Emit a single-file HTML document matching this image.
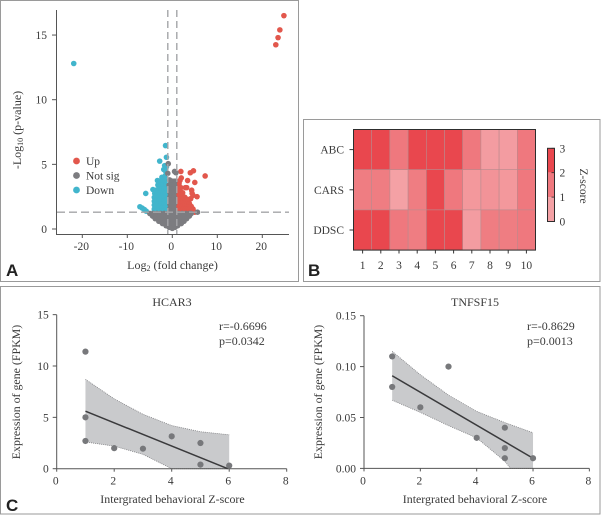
<!DOCTYPE html>
<html lang="en"><head><meta charset="utf-8"><title>Volcano plot, heatmap and correlations</title>
<style>
html,body{margin:0;padding:0;background:#fff}
svg{display:block}
text{font-family:"Liberation Serif",serif;fill:#3a3a3a;font-size:11.5px}
.tag{font-family:"Liberation Sans",sans-serif;font-weight:700;font-size:17px;fill:#222}
</style></head>
<body>
<svg id="figure" width="601" height="516" viewBox="0 0 601 516" xmlns="http://www.w3.org/2000/svg">
<rect x="0.5" y="0.5" width="298" height="281" fill="none" stroke="#9a9a9a"/>
<rect x="303.5" y="119.5" width="296.5" height="162" fill="none" stroke="#9a9a9a"/>
<rect x="0.5" y="286.5" width="599.5" height="227.5" fill="none" stroke="#9a9a9a"/>
<text class="tag" x="6" y="276">A</text>
<text class="tag" x="308" y="276">B</text>
<text class="tag" x="6" y="511">C</text>
</svg>
<script>
// ---- Volcano data: [log2 fold change, -log10 p]
const upPoints = [[24.8,16.5],[23.9,15.4],[23.5,14.8],[23,14.25],[7.3,4.1],[4.7,4.5],[4,4.35],[1.9,4.45],[5,3.6],[3.4,3.75],[2,3.95],[1.7,3.75],[1.5,3.5],[2.9,3.2],[3.2,3.2],[4.3,3],[4.4,2.75],[4.6,2.6],[5.5,2.5],[4.1,2.35],[3.7,2.2],[4.6,1.55],[5,1.3],[1.4,3.2],[1.9,3.2],[1.3,2.9],[1.8,2.9],[2.3,2.8],[1.3,2.6],[1.8,2.6],[2.3,2.5],[2.8,2.45],[1.3,2.3],[1.8,2.3],[2.3,2.25],[2.8,2.2],[3.3,2.3],[1.3,2.0],[1.8,2.0],[2.3,2.0],[2.8,1.95],[3.3,1.95],[3.8,1.95],[1.3,1.75],[1.8,1.75],[2.3,1.75],[2.8,1.75],[3.3,1.7],[3.8,1.7],[4.2,1.75],[1.3,1.5],[1.8,1.5],[2.3,1.5],[2.8,1.5],[3.3,1.5],[3.8,1.5],[4.2,1.45]];
const notSigPoints = [[0.5,4.45],[0.8,4.35],[-0.9,5.05],[-1,4.3],[-0.6,3.8],[0.1,3.7],[0.6,3.7],[-0.7,3.4],[-0.2,3.4],[0.3,3.4],[0.5,3.4],[-0.5,3.1],[0.2,3.1],[0.5,3.1],[-0.5,2.8],[-0.2,2.8],[0.4,2.8],[-0.5,2.5],[-0.2,2.5],[0.3,2.5],[0.4,2.5],[-0.5,2.2],[-0.2,2.2],[0.3,2.2],[0.4,2.2],[-0.5,1.9],[-0.2,1.9],[0.3,1.9],[0.4,1.9],[-0.5,1.6],[-0.2,1.6],[0.3,1.6],[0.4,1.6],[-0.5,1.35],[0,1.35],[0.4,1.35],[5.6,1.3],
[-5,1.2],[-4.2,1.2],[-3.4,1.2],[-2.6,1.2],[-1.8,1.2],[-1,1.2],[-0.2,1.2],[0.6,1.2],[1.4,1.2],[2.2,1.2],[3,1.2],[3.8,1.2],[4.2,1.2],
[-4.4,1],[-3.6,1],[-2.8,1],[-2,1],[-1.2,1],[-0.4,1],[0.4,1],[1.2,1],[2,1],[2.8,1],[3.4,1],[3.8,1],
[-3.8,0.8],[-3.1,0.8],[-2.3,0.8],[-1.5,0.8],[-0.7,0.8],[0.1,0.8],[0.9,0.8],[1.7,0.8],[2.5,0.8],[3.2,0.8],
[-3,0.6],[-2.3,0.6],[-1.5,0.6],[-0.7,0.6],[0.1,0.6],[0.9,0.6],[1.7,0.6],[2.6,0.6],
[-2.2,0.42],[-1.5,0.42],[-0.8,0.42],[-0.1,0.42],[0.6,0.42],[1.3,0.42],[2,0.42],
[-1.4,0.26],[-0.7,0.26],[0,0.26],[0.7,0.26],[1.2,0.26],
[-0.7,0.13],[-0.2,0.13],[0.2,0.13],[0.6,0.13],[0,0.05]];
const downPoints = [[-21.9,12.8],[-1.5,6.45],[-1.3,5.55],[-2.8,5.25],[-1.7,4.9],[-1.3,4.8],[-1.9,4.6],[-1.4,4.4],[-2.3,4],[-1.6,4.1],[-3.3,3.75],[-2.7,3.7],[-2.1,3.75],[-1.5,3.75],[-3.2,3.4],[-2.6,3.4],[-2,3.4],[-1.4,3.4],[-4.3,3.05],[-3.6,3],[-3,3.1],[-2.4,3.1],[-1.8,3.1],[-1.3,3.1],[-5.9,2.75],[-3.9,2.75],[-3.3,2.8],[-2.7,2.8],[-2.1,2.8],[-1.5,2.8],[-4,2.45],[-3.6,2.5],[-3,2.5],[-2.4,2.5],[-1.8,2.5],[-1.3,2.5],[-4,2.15],[-3.6,2.2],[-3,2.2],[-2.4,2.2],[-1.8,2.2],[-1.3,2.2],[-4,1.85],[-3.6,1.9],[-3,1.9],[-2.4,1.9],[-1.8,1.9],[-1.3,1.9],[-7.2,1.72],[-6.7,1.62],[-6.2,1.5],[-5.8,1.38],[-4,1.55],[-3.6,1.6],[-3,1.6],[-2.4,1.6],[-1.8,1.6],[-1.3,1.6],[-4,1.38],[-3.6,1.38],[-3,1.38],[-2.4,1.38],[-1.8,1.38],[-1.3,1.38]];
const volcanoXTicks = [-20,-10,0,10,20];
const volcanoYTicks = [0,5,10,15];
const foldThresholds = [-1,1];
const pThreshold = 1.3;
const legendLabels = ['Up','Not sig','Down'];

// ---- Heatmap data
const heatRows = ['ABC','CARS','DDSC'];
const heatCols = ['1','2','3','4','5','6','7','8','9','10'];
const heatABC = [2.9,2.9,1.8,2.9,2.9,2.9,1.8,1.0,1.0,1.8];
const heatCARS = [1.7,1.7,0.9,1.7,2.9,1.8,1.1,1.2,1.1,1.8];
const heatDDSC = [2.9,2.9,1.8,1.7,2.9,2.9,1.0,1.7,1.7,1.8];
const colorbarTicks = [0,1,2,3];

// ---- Correlation data
const hcarX = [1,1,1,2,3,4,5,5,6];
const hcarY = [11.4,5,2.7,2,1.95,3.15,2.5,0.4,0.3];
const hcarBandX = [1,2,3,4,5,6];
const hcarUpper = [8.7,6.8,5.3,4.2,3.6,3.3];
const hcarLower = [2.6,2.2,1.4,0,0,0];
const hcarFit = [5.6,0];
const tnfX = [1,1,2,3,4,5,5,5,6];
const tnfY = [0.11,0.08,0.06,0.1,0.03,0.04,0.02,0.01,0.01];
const tnfBandX = [1,2,3,4,5,5.2,6];
const tnfUpper = [0.115,0.092,0.072,0.056,0.045,0.043,0.035];
const tnfLower = [0.067,0.055,0.042,0.03,0.007,0,0];
const tnfFit = [0.091,0.01];
const corrXTicks = [0,2,4,6,8];
const hcarYTicks = [0,5,10,15];
const tnfYTicks = [0,0.05,0.1,0.15];
const xAxisText = 'Intergrated behavioral Z-score';
const yAxisText = 'Expression of gene (FPKM)';

const NS = 'http://www.w3.org/2000/svg';
const root = document.getElementById('figure');
function mk(tag, attrs, parent, txt){
  const el = document.createElementNS(NS, tag);
  for (const k in attrs) el.setAttribute(k, attrs[k]);
  if (txt !== undefined) el.textContent = txt;
  (parent || root).appendChild(el);
  return el;
}
function group(name){
  const g = mk('g', {});
  
  
  return g;
}
function ln(p, x1, y1, x2, y2, stroke, w, dash){
  const a = {x1, y1, x2, y2, stroke, 'stroke-width': w};
  if (dash) a['stroke-dasharray'] = dash;
  return mk('line', a, p);
}

// ---- Panel A
(function(){
  const sx = v => 172.3 + v * 4.5;
  const sy = v => 229 - v * 12.93;
  const g = group('volcano-plot');
  ln(g, 56.5, 10, 56.5, 234, '#555', 1);
  ln(g, 56, 234.5, 289, 234.5, '#555', 1);
  volcanoXTicks.forEach(t => {
    ln(g, sx(t), 234, sx(t), 238, '#555', 1);
    mk('text', {x: sx(t) - 1, y: 250, 'text-anchor': 'middle', 'font-size': '11.5'}, g, String(t));
  });
  volcanoYTicks.forEach(t => {
    ln(g, 52, sy(t), 56, sy(t), '#555', 1);
    mk('text', {x: 47, y: sy(t) + 4, 'text-anchor': 'end'}, g, String(t));
  });
  const series = [[downPoints, '#41b5cc', 'down-point'], [upPoints, '#e2574c', 'up-point'], [notSigPoints, '#7c7c80', 'not-sig-point']];
  series.forEach(s => {
    s[0].forEach(p => {
      const c = mk('circle', {cx: sx(p[0]), cy: sy(p[1]), r: 2.8, fill: s[1]}, g);
      
      
    });
  });
  foldThresholds.forEach(t => {
    const l = ln(g, sx(t), 10, sx(t), 234, '#a4a5a8', 1.4, '7 4');
    
    
  });
  const h = ln(g, 57, sy(pThreshold), 289, sy(pThreshold), '#a4a5a8', 1.4, '8 4');
  
  
  const cols = ['#e2574c', '#7c7c80', '#41b5cc'];
  const ly = [161, 175.5, 190];
  legendLabels.forEach((t, i) => {
    const c = mk('circle', {cx: 76.5, cy: ly[i], r: 3.4, fill: cols[i]}, g);
    
    
    const e = mk('text', {x: 86, y: ly[i] + 4, 'font-size': '12'}, g, t);
    
    
  });
  const xt = mk('text', {x: 172.5, y: 269, 'text-anchor': 'middle', style: 'font-size:12px'}, g);
  
  
  mk('tspan', {}, xt, 'Log');
  mk('tspan', {dy: 2, style: 'font-size:8px'}, xt, '2');
  mk('tspan', {dy: -2}, xt, ' (fold change)');
  const yt = mk('text', {transform: 'translate(21,130) rotate(-90)', 'text-anchor': 'middle', style: 'font-size:12px'}, g);
  
  
  mk('tspan', {}, yt, '-Log');
  mk('tspan', {dy: 2, style: 'font-size:8px'}, yt, '10');
  mk('tspan', {dy: -2}, yt, ' (p-value)');
})();

// ---- Panel B
(function(){
  const heatData = [heatABC, heatCARS, heatDDSC];
  const x0 = 353.5, y0 = 129.5, cw = 18.2, ch = 40.2;
  const colour = v => {
    const f = Math.max(0, Math.min(1, v / 3));
    return 'rgb(' + Math.round(249 - 17 * f) + ',' + Math.round(201 - 135 * f) + ',' + Math.round(204 - 130 * f) + ')';
  };
  const g = group('heatmap');
  heatData.forEach((row, r) => {
    row.forEach((v, c) => {
      const cell = mk('rect', {x: x0 + c * cw, y: y0 + r * ch, width: cw, height: ch, fill: colour(v), stroke: '#b98a8e', 'stroke-width': 0.6}, g);
      
      
    });
    ln(g, 349.5, y0 + (r + 0.5) * ch, 353, y0 + (r + 0.5) * ch, '#333', 1);
    mk('text', {x: 344, y: y0 + (r + 0.5) * ch + 4, 'text-anchor': 'end', 'font-size': '11.5'}, g, heatRows[r]);
  });
  mk('rect', {x: x0, y: y0, width: cw * 10, height: ch * 3, fill: 'none', stroke: '#2d2d2d', 'stroke-width': 1}, g);
  heatCols.forEach((t, c) => {
    const x = x0 + (c + 0.5) * cw;
    ln(g, x, 250, x, 253.5, '#333', 1);
    mk('text', {x: x, y: 269, 'text-anchor': 'middle', 'font-size': '11'}, g, t);
  });
  const b = group('colorbar');
  const by = v => 221.5 - v * 24.4;
  const cb = [2.9, 1.8, 0.9];
  cb.forEach((v, i) => {
    mk('rect', {x: 547.5, y: by(3 - i), width: 7, height: 24.4, fill: colour(v)}, b);
  });
  mk('rect', {x: 547.5, y: by(3), width: 7, height: 73.2, fill: 'none', stroke: '#2d2d2d', 'stroke-width': 1}, b);
  colorbarTicks.forEach(t => {
    ln(b, 551.5, by(t), 554.5, by(t), '#2d2d2d', 0.8);
    mk('text', {x: 559.5, y: by(t) + 4, 'font-size': '11'}, b, String(t));
  });
  const zt = mk('text', {transform: 'translate(580,186) rotate(90)', 'text-anchor': 'middle', 'font-size': '11.5'}, b, 'Z-score');
  
  
})();

// ---- Panel C
function corrChart(o){
  const sx = v => o.x0 + v * o.xs;
  const sy = v => o.y0 - v * o.ys;
  const g = group(o.name);
  const up = o.bandX.map((x, i) => sx(x) + ',' + sy(o.upper[i]));
  const lo = o.bandX.map((x, i) => sx(x) + ',' + sy(o.lower[i])).reverse();
  const band = mk('polygon', {points: up.concat(lo).join(' '), fill: '#c9cacc'}, g);
  
  
  mk('polyline', {points: up.join(' '), fill: 'none', stroke: '#808184', 'stroke-width': 0.8, 'stroke-dasharray': '1 1'}, g);
  mk('polyline', {points: lo.join(' '), fill: 'none', stroke: '#808184', 'stroke-width': 0.8, 'stroke-dasharray': '1 1'}, g);
  ln(g, o.x0, o.y0, o.x0, o.top, '#555', 1);
  ln(g, o.x0, o.y0, sx(8), o.y0, '#555', 1);
  corrXTicks.forEach(t => {
    ln(g, sx(t), o.y0, sx(t), o.y0 + 3, '#555', 1);
    mk('text', {x: sx(t) - 1, y: o.y0 + 16, 'text-anchor': 'middle'}, g, String(t));
  });
  o.yTicks.forEach(t => {
    ln(g, o.x0 - 4, sy(t), o.x0, sy(t), '#555', 1);
    mk('text', {x: o.x0 - 8, y: sy(t) + 4, 'text-anchor': 'end'}, g, t.toFixed(o.dec));
  });
  const fit = ln(g, sx(1), sy(o.fit[0]), sx(o.fitEnd), sy(o.fit[1]), '#3a3a3c', 1.5);
  
  
  o.px.forEach((x, i) => {
    const c = mk('circle', {cx: sx(x), cy: sy(o.py[i]), r: 3.1, fill: '#77787b'}, g);
    
    
  });
  const tt = mk('text', {x: o.titleX, y: 306, 'text-anchor': 'middle', style: 'font-size:12px'}, g, o.title);
  
  
  const xa = mk('text', {x: o.xtX, y: 503, 'text-anchor': 'middle', style: 'font-size:11.9px'}, g, xAxisText);
  
  
  const ya = mk('text', {transform: 'translate(' + o.ytX + ',392) rotate(-90)', 'text-anchor': 'middle', style: 'font-size:11.9px'}, g, yAxisText);
  
  
  const r1 = mk('text', {x: o.noteX, y: 330, style: 'font-size:12px'}, g, o.r);
  
  
  const r2 = mk('text', {x: o.noteX, y: 345, style: 'font-size:12px'}, g, o.p);
  
  
}
corrChart({name:'hcar3-chart',x0:56.7,xs:28.75,y0:468.7,ys:10.27,top:314.7,bandX:hcarBandX,upper:hcarUpper,lower:hcarLower,fit:hcarFit,fitEnd:5.95,px:hcarX,py:hcarY,yTicks:hcarYTicks,dec:0,title:'HCAR3',titleX:172,xtX:172.5,ytX:20,noteX:219,r:'r=-0.6696',p:'p=0.0342'});
corrChart({name:'tnfsf15-chart',x0:364,xs:28.17,y0:468.4,ys:1018,top:315.7,bandX:tnfBandX,upper:tnfUpper,lower:tnfLower,fit:tnfFit,fitEnd:6,px:tnfX,py:tnfY,yTicks:tnfYTicks,dec:2,title:'TNFSF15',titleX:475,xtX:475,ytX:322,noteX:527,r:'r=-0.8629',p:'p=0.0013'});
</script>
</body></html>
